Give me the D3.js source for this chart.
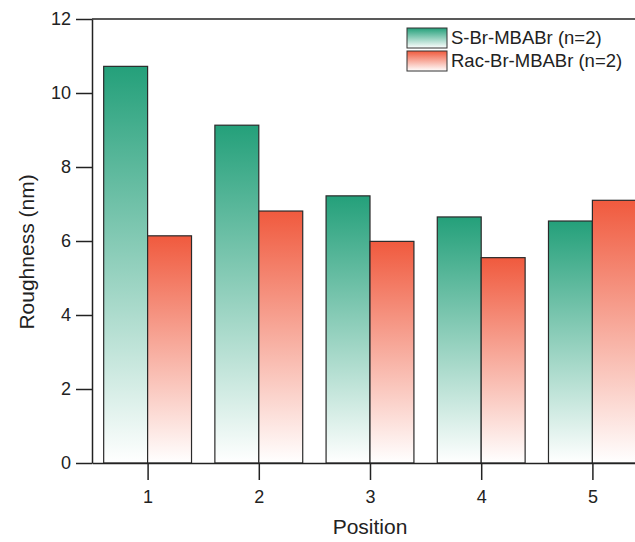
<!DOCTYPE html>
<html>
<head>
<meta charset="utf-8">
<script src="https://cdn.jsdelivr.net/npm/d3@7"></script>
<style>
  html, body { margin: 0; padding: 0; background: #fff; }
  svg { display: block; font-family: "Liberation Sans", Arial, sans-serif; }
</style>
</head>
<body>
<svg id="chart" width="635" height="542"></svg>
<script>
// Surface roughness at five positions for two film compositions
const positions = [1, 2, 3, 4, 5];
const seriesNames = ["S-Br-MBABr (n=2)", "Rac-Br-MBABr (n=2)"];
const sValues = [10.72, 9.13, 7.22, 6.65, 6.54];
const racValues = [6.14, 6.81, 5.99, 5.55, 7.10];
const yTicks = [0, 2, 4, 6, 8, 10, 12];
const seriesColors = ["#24a07a", "#f05a3e"];

const svg = d3.select("#chart");
const margin = { left: 92, top: 19, bottom: 463 };

const x = d3.scaleLinear().domain([0.5, 5.5]).range([margin.left, 648]);
const y = d3.scaleLinear().domain([0, 12]).range([margin.bottom, margin.top]);
const barW = 0.395; // width of one bar, in position units

// Vertical gradients: full colour at the top of each bar fading to white
const defs = svg.append("defs");
seriesColors.forEach((c, i) => {
  const g = defs.append("linearGradient")
    .attr("id", "grad" + i)
    .attr("x1", 0).attr("y1", 0).attr("x2", 0).attr("y2", 1);
  g.append("stop").attr("offset", "0%").attr("stop-color", c);
  g.append("stop").attr("offset", "100%").attr("stop-color", "#ffffff");
});

// Bars
const series = [sValues, racValues];
series.forEach((vals, si) => {
  svg.append("g").selectAll("rect")
    .data(positions.map((p, i) => ({ p, v: vals[i] })))
    .join("rect")
    .attr("x", d => x(d.p - barW + si * barW))
    .attr("width", d => x(d.p + barW) - x(d.p))
    .attr("y", d => y(d.v))
    .attr("height", d => y(0) - y(d.v))
    .attr("fill", `url(#grad${si})`)
    .attr("stroke", "#2a2a2a")
    .attr("stroke-width", 1.2);
});

// Frame: top line
svg.append("line")
  .attr("x1", margin.left).attr("x2", 648)
  .attr("y1", margin.top).attr("y2", margin.top)
  .attr("stroke", "#222").attr("stroke-width", 1.5);

const font = "Liberation Sans, Arial, sans-serif";

// Y axis
const yAxis = svg.append("g")
  .attr("transform", `translate(${margin.left},0)`)
  .call(d3.axisLeft(y).tickValues(yTicks).tickSize(16).tickSizeOuter(0)
    .tickPadding(5).tickFormat(d3.format("d")));
yAxis.select(".domain").attr("stroke", "#222").attr("stroke-width", 1.5);
yAxis.selectAll(".tick line").attr("stroke", "#222").attr("stroke-width", 1.5);
yAxis.selectAll(".tick text").attr("font-size", 18).attr("fill", "#222")
  .attr("font-family", font);

// X axis
const xAxis = svg.append("g")
  .attr("transform", `translate(0,${margin.bottom})`)
  .call(d3.axisBottom(x).tickValues(positions).tickSize(17).tickSizeOuter(0)
    .tickPadding(10).tickFormat(d3.format("d")));
xAxis.select(".domain").attr("stroke", "#222").attr("stroke-width", 1.5);
xAxis.selectAll(".tick line").attr("stroke", "#222").attr("stroke-width", 1.5);
xAxis.selectAll(".tick text").attr("font-size", 18).attr("fill", "#222")
  .attr("font-family", font);

// Axis titles
svg.append("text")
  .attr("x", x(3)).attr("y", 534)
  .attr("text-anchor", "middle")
  .attr("font-size", 21).attr("fill", "#222")
  .text("Position");

svg.append("text")
  .attr("transform", `translate(34,252) rotate(-90)`)
  .attr("text-anchor", "middle")
  .attr("font-size", 21).attr("fill", "#222")
  .text("Roughness (nm)");

// Legend
const legend = svg.append("g").attr("transform", "translate(407,28)");
seriesNames.forEach((name, i) => {
  const row = legend.append("g").attr("transform", `translate(0,${i * 23})`);
  row.append("rect")
    .attr("width", 40).attr("height", 20)
    .attr("fill", `url(#grad${i})`)
    .attr("stroke", "#333").attr("stroke-width", 1);
  row.append("text")
    .attr("x", 44).attr("y", 16)
    .attr("font-size", 18.5).attr("fill", "#222")
    .text(name);
});
</script>
</body>
</html>
